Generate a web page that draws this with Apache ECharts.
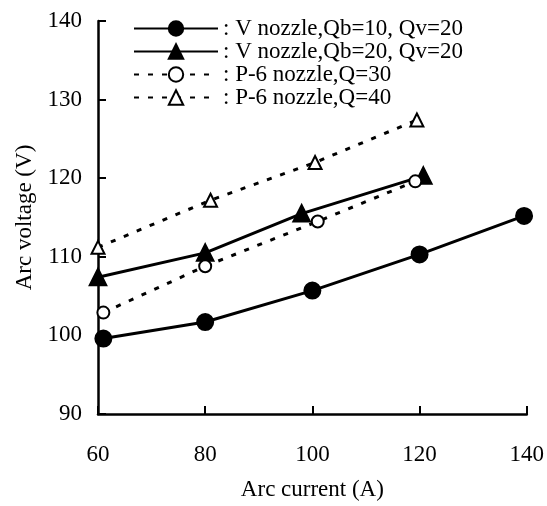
<!DOCTYPE html>
<html>
<head>
<meta charset="utf-8">
<script src="https://cdn.jsdelivr.net/npm/echarts@6/dist/echarts.min.js"></script>
<style>html,body{margin:0;padding:0;background:#fff;}#c{width:547px;height:506px;}</style>
</head>
<body>
<div id="c"></div>
<script>
// Data
const seriesNames = [
  'V nozzle,Qb=10, Qv=20',
  'V nozzle,Qb=20, Qv=20',
  'P-6 nozzle,Q=30',
  'P-6 nozzle,Q=40'
];
const currentV10 = [61, 80, 100, 120, 139.5];
const voltageV10 = [99.6, 101.7, 105.7, 110.3, 115.2];
const currentV20 = [60, 80, 98, 120.7];
const voltageV20 = [107.4, 110.5, 115.5, 120.3];
const currentP30 = [61, 80, 101, 119.2];
const voltageP30 = [102.9, 108.8, 114.5, 119.6];
const currentP40 = [60, 81, 100.5, 119.5];
const voltageP40 = [111.2, 117.2, 122, 127.4];
const xTicks = [60, 80, 100, 120, 140];
const yTicks = [90, 100, 110, 120, 130, 140];

const FONT = '"Liberation Serif", "Times New Roman", serif';
const pairs = (xs, ys) => xs.map((x, i) => [x, ys[i]]);

function mkSeries(name, xs, ys, symbol, size, dashed) {
  return {
    name: name,
    type: 'line',
    data: pairs(xs, ys),
    symbol: symbol,
    symbolSize: size,
    clip: false,
    showAllSymbol: true,
    lineStyle: { color: '#000', width: 3, type: dashed ? [5, 9] : 'solid' },
    itemStyle: { color: '#000', borderColor: '#000', borderWidth: 3 },
    emphasis: { disabled: true },
    animation: false
  };
}

const chart = echarts.init(document.getElementById('c'), null, { renderer: 'canvas' });
chart.setOption({
  animation: false,
  backgroundColor: '#fff',
  grid: { left: 98, right: 19, top: 21, bottom: 86 },
  legend: {
    orient: 'vertical',
    left: 128,
    top: 12,
    itemWidth: 84,
    itemHeight: 18,
    itemGap: 0,
    selectedMode: false,
    data: seriesNames,
    formatter: n => ': ' + n,
    textStyle: { fontFamily: FONT, fontSize: 23, color: '#000', lineHeight: 20 }
  },
  xAxis: {
    type: 'value',
    min: xTicks[0],
    max: xTicks[xTicks.length - 1],
    interval: 20,
    name: 'Arc current (A)',
    nameLocation: 'middle',
    nameGap: 64,
    nameTextStyle: { fontFamily: FONT, fontSize: 23, color: '#000' },
    splitLine: { show: false },
    axisLine: { lineStyle: { color: '#000', width: 2.5 } },
    axisTick: { inside: true, length: 8, lineStyle: { color: '#000', width: 2 } },
    axisLabel: { margin: 29, fontFamily: FONT, fontSize: 23, color: '#000' }
  },
  yAxis: {
    type: 'value',
    min: yTicks[0],
    max: yTicks[yTicks.length - 1],
    interval: 10,
    name: 'Arc voltage (V)',
    nameLocation: 'middle',
    nameGap: 61,
    nameTextStyle: { fontFamily: FONT, fontSize: 23, color: '#000' },
    splitLine: { show: false },
    axisLine: { lineStyle: { color: '#000', width: 2.5 } },
    axisTick: { inside: true, length: 8, lineStyle: { color: '#000', width: 2 } },
    axisLabel: { margin: 16, fontFamily: FONT, fontSize: 23, color: '#000' }
  },
  series: [
    mkSeries(seriesNames[0], currentV10, voltageV10, 'circle', 15, false),
    mkSeries(seriesNames[1], currentV20, voltageV20, 'triangle', 15, false),
    mkSeries(seriesNames[2], currentP30, voltageP30, 'emptyCircle', 12, true),
    mkSeries(seriesNames[3], currentP40, voltageP40, 'emptyTriangle', 13, true)
  ]
});
</script>
</body>
</html>
